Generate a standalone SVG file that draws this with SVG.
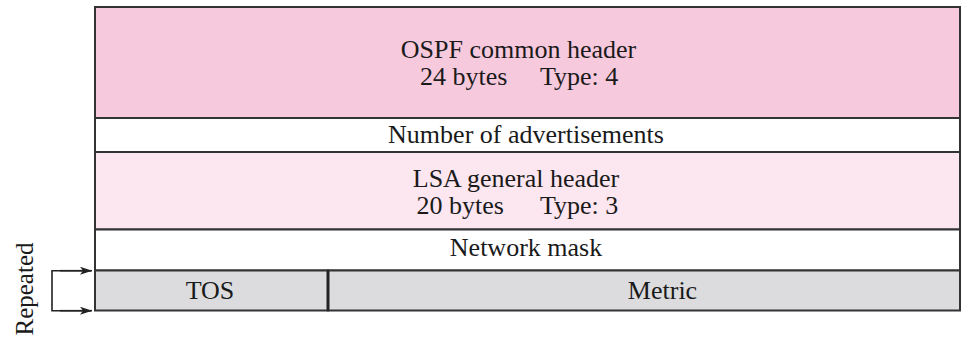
<svg xmlns="http://www.w3.org/2000/svg" width="962" height="337" viewBox="0 0 962 337">
<defs>
<style>
.box{stroke:#333;stroke-width:2}
.t{font-family:"Liberation Serif","Times New Roman",serif;font-size:26px;fill:#1a1a1a}
.c{text-anchor:middle}
.ln{stroke:#222;stroke-width:1.6;fill:none}
</style>
<marker id="ah" viewBox="0 0 12 8" refX="12" refY="4" markerWidth="12" markerHeight="8" markerUnits="userSpaceOnUse" orient="auto">
<path d="M0,0 L12,4 L0,8 L3,4 Z" fill="#222"/>
</marker>
</defs>
<rect width="962" height="337" fill="#fff"/>
<g id="ospf-header">
<rect class="box" x="95" y="7" width="865" height="111" fill="#f7c9dd"/>
<text class="t c" x="518.5" y="58">OSPF common header</text>
<text class="t" x="420" y="85">24 bytes</text>
<text class="t" x="540" y="85">Type: 4</text>
</g>
<g id="num-adv">
<rect class="box" x="95" y="118" width="865" height="34" fill="#fff"/>
<text class="t c" x="526" y="143">Number of advertisements</text>
</g>
<g id="lsa-header">
<rect class="box" x="95" y="152" width="865" height="77.5" fill="#fce6ef"/>
<text class="t c" x="516" y="186.5">LSA general header</text>
<text class="t" x="416.5" y="213.5">20 bytes</text>
<text class="t" x="540" y="213.5">Type: 3</text>
</g>
<g id="net-mask">
<rect class="box" x="95" y="229.5" width="865" height="41" fill="#fff"/>
<text class="t c" x="526" y="256">Network mask</text>
</g>
<g id="tos">
<rect class="box" x="95" y="270.5" width="233" height="40" fill="#dcdcde"/>
<text class="t c" x="210" y="299">TOS</text>
</g>
<g id="metric">
<rect class="box" x="328" y="270.5" width="632" height="40" fill="#dcdcde"/>
<line x1="328" y1="270.5" x2="328" y2="310.5" stroke="#222" stroke-width="3"/>
<text class="t c" x="662.5" y="299">Metric</text>
</g>
<g id="connectors">
<path class="ln" d="M91,270.7 H52 V310.7 H91"/>
<line class="ln" x1="60" y1="270.7" x2="92" y2="270.7" marker-end="url(#ah)"/>
<line class="ln" x1="60" y1="310.7" x2="92" y2="310.7" marker-end="url(#ah)"/>
</g>
<g id="repeated-label">
<text class="t c" style="font-size:25px" transform="translate(33,289) rotate(-90)">Repeated</text>
</g>
</svg>
